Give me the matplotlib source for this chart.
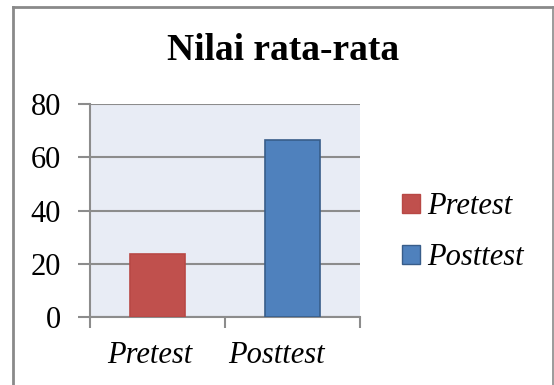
import matplotlib
matplotlib.use("Agg")
import matplotlib.pyplot as plt
from matplotlib.lines import Line2D
from matplotlib.patches import Patch

plt.rcParams['font.family'] = ['Liberation Serif', 'DejaVu Serif']

# ---------- data ----------
categories = ['Pretest', 'Posttest']
values = [23.5, 66.5]
colors = ['#C0504D', '#4F81BD']
edges = ['#B84845', '#385D8A']
y_ticks = [0, 20, 40, 60, 80]

grid_col = '#8C8C8C'

fig = plt.figure(figsize=(5.54, 3.85), dpi=100)
ax = fig.add_axes([90 / 554, 68 / 385, 270 / 554, 213 / 385])
ax.set_facecolor('#E8ECF5')

x = range(len(categories))
ax.bar(x, values, width=0.41, color=colors, edgecolor=edges, linewidth=1.2, zorder=3)

ax.set_xlim(-0.5, len(categories) - 0.5)
ax.set_ylim(0, 80)
ax.set_yticks(y_ticks)
ax.set_yticklabels([str(v) for v in y_ticks], fontsize=22)
ax.yaxis.grid(True, color=grid_col, linewidth=1.5, zorder=0)
ax.set_axisbelow(True)

# category ticks sit on the boundaries between groups,
# labels drawn a little left of the group centre
ax.set_xticks([-0.5, 0.5, 1.5])
ax.set_xticklabels([])
ax.set_xticks([0 - 0.06, 1 - 0.12], minor=True)
ax.set_xticklabels(categories, minor=True, fontsize=22, style='italic')
ax.tick_params(axis='x', which='minor', length=0, pad=17)
ax.tick_params(axis='x', which='major', length=8, width=1.5, color=grid_col)
ax.tick_params(axis='y', length=9, width=1.5, color=grid_col, pad=12)

for side in ['top', 'right']:
    ax.spines[side].set_visible(False)
for side in ['left', 'bottom']:
    ax.spines[side].set_color(grid_col)
    ax.spines[side].set_linewidth(1.5)

# legend to the right of the plot
handles = [Patch(facecolor=c, edgecolor=e, linewidth=1.0) for c, e in zip(colors, edges)]
fig.legend(handles, categories, loc='center left', bbox_to_anchor=(374 / 554, 1 - 232 / 385),
           frameon=False, prop={'size': 22, 'style': 'italic'},
           handlelength=0.6, handleheight=0.6, handletextpad=0.25, labelspacing=0.72)

fig.text(283 / 554, 1 - 60 / 385, 'Nilai rata-rata', ha='center', va='baseline',
         fontsize=27, fontweight='bold')

# outer chart border
border = '#8A8A8A'
top = 1 - 6.5 / 385
fig.add_artist(Line2D([13 / 554, 13 / 554], [0, top], color=border, linewidth=2))
fig.add_artist(Line2D([13 / 554, 553 / 554], [top, top], color=border, linewidth=2))
fig.add_artist(Line2D([553 / 554, 553 / 554], [0, top], color=border, linewidth=1.2))

fig.savefig('out.png', dpi=100)
